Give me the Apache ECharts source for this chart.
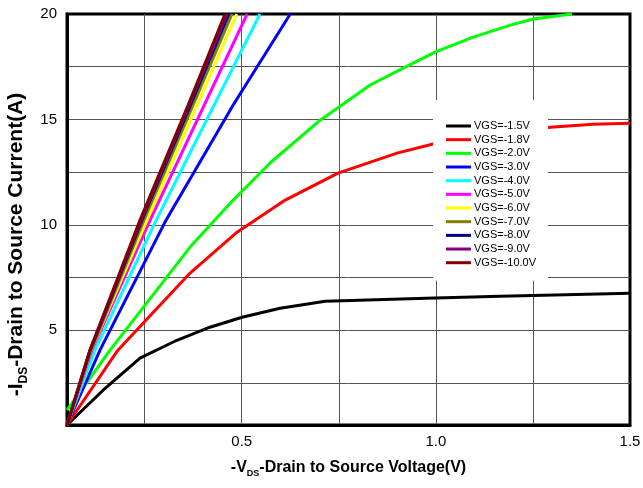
<!DOCTYPE html>
<html>
<head>
<meta charset="utf-8">
<script src="https://cdn.jsdelivr.net/npm/echarts@6/dist/echarts.min.js"></script>
<style>
  html, body { margin: 0; padding: 0; background: #ffffff; }
  #chart { width: 643px; height: 488px; }
</style>
</head>
<body>
<div id="chart"></div>
<script>
// Output characteristics: -ID versus -VDS for several gate voltages
const gateLabels = ['VGS=-1.5V', 'VGS=-1.8V', 'VGS=-2.0V', 'VGS=-3.0V', 'VGS=-4.0V', 'VGS=-5.0V',
                    'VGS=-6.0V', 'VGS=-7.0V', 'VGS=-8.0V', 'VGS=-9.0V', 'VGS=-10.0V'];

const vds_1v5 = [0.05, 0.143, 0.238, 0.333, 0.418, 0.501, 0.599, 0.715, 0.998, 1.166, 1.5];
const id_1v5  = [0.5, 2.15, 3.67, 4.52, 5.14, 5.61, 6.04, 6.37, 6.52, 6.61, 6.75];

const vds_1v8 = [0.05, 0.181, 0.367, 0.488, 0.612, 0.748, 0.900, 0.993, 1.295, 1.405, 1.5];
const id_1v8  = [0.5, 4.05, 7.71, 9.65, 11.17, 12.45, 13.40, 13.83, 14.63, 14.77, 14.82];

const vds_2v0 = [0.05, 0.161, 0.367, 0.478, 0.573, 0.702, 0.831, 0.916, 0.998, 1.096, 1.192, 1.251, 1.351];
const id_2v0  = [1.2, 4.05, 8.94, 11.17, 12.93, 14.96, 16.63, 17.43, 18.19, 18.90, 19.47, 19.76, 20.0];

const vds_3v0 = [0.05, 0.135, 0.305, 0.478, 0.625];
const id_3v0  = [0.5, 4.05, 10.22, 15.68, 20.0];

const vds_4v0 = [0.05, 0.122, 0.277, 0.547];
const id_4v0  = [0.5, 4.05, 10.12, 20.0];

const vds_5v0 = [0.05, 0.114, 0.264, 0.514];
const id_5v0  = [0.5, 4.05, 10.22, 20.0];

const vds_6v0 = [0.05, 0.112, 0.256, 0.487];
const id_6v0  = [0.5, 4.05, 10.22, 20.0];

const vds_7v0 = [0.05, 0.112, 0.248, 0.475];
const id_7v0  = [0.5, 4.05, 10.22, 20.0];

const vds_8v0 = [0.05, 0.110, 0.243, 0.467];
const id_8v0  = [0.5, 4.05, 10.22, 20.0];

const vds_9v0 = [0.05, 0.109, 0.241, 0.462];
const id_9v0  = [0.5, 4.05, 10.22, 20.0];

const vds_10v0 = [0.05, 0.109, 0.238, 0.362, 0.457];
const id_10v0  = [0.5, 4.05, 10.22, 15.68, 20.0];

// Axis ticks
const xGridValues = [0.25, 0.5, 0.75, 1.0, 1.25];
const xLabelValues = [0.5, 1.0, 1.5];
const yGridValues = [2.5, 5, 7.5, 10, 12.5, 15, 17.5];
const yLabelValues = [5, 10, 15, 20];

const curveX = [vds_1v5, vds_1v8, vds_2v0, vds_3v0, vds_4v0, vds_5v0, vds_6v0, vds_7v0, vds_8v0, vds_9v0, vds_10v0];
const curveY = [id_1v5, id_1v8, id_2v0, id_3v0, id_4v0, id_5v0, id_6v0, id_7v0, id_8v0, id_9v0, id_10v0];
const lineColors = ['#000000', '#ff0000', '#00ff00', '#0000ff', '#00ffff', '#ff00ff',
                    '#ffff00', '#808000', '#000080', '#800080', '#800000'];

const FONT = 'Liberation Sans, Arial, sans-serif';

const series = gateLabels.map((name, k) => ({
  name: name,
  type: 'line',
  symbol: 'none',
  smooth: false,
  clip: true,
  color: lineColors[k],
  lineStyle: { color: lineColors[k], width: 3 },
  data: curveX[k].map((v, j) => [v, curveY[k][j]])
}));

const gridLine = { show: true, lineStyle: { color: '#555555', width: 1 } };
const xNameRich = {
  a: { fontFamily: FONT, fontSize: 16, fontWeight: 'bold', color: '#000', verticalAlign: 'top', lineHeight: 18 },
  s: { fontFamily: FONT, fontSize: 9, fontWeight: 'bold', color: '#000', verticalAlign: 'top', lineHeight: 18, padding: [9, 0, 0, 0] }
};
const yNameRich = {
  a: { fontFamily: FONT, fontSize: 21, fontWeight: 'bold', color: '#000', verticalAlign: 'top', lineHeight: 23 },
  s: { fontFamily: FONT, fontSize: 12, fontWeight: 'bold', color: '#000', verticalAlign: 'top', lineHeight: 23, padding: [12, 0, 0, 0] }
};

const chart = echarts.init(document.getElementById('chart'), null, { renderer: 'canvas' });
chart.setOption({
  animation: false,
  backgroundColor: '#ffffff',
  grid: {
    left: 67, right: 13, top: 14, bottom: 63,
    outerBoundsMode: 'none',
    containLabel: false,
    show: true, borderColor: '#000000', borderWidth: 3, backgroundColor: 'transparent'
  },
  legend: {
    data: gateLabels,
    left: 433, top: 100,
    orient: 'vertical',
    padding: [20, 12, 12, 13],
    backgroundColor: '#ffffff',
    icon: 'rect',
    itemWidth: 25,
    itemHeight: 3,
    itemGap: 1.67,
    textStyle: { fontFamily: FONT, fontSize: 11, color: '#000', lineHeight: 12, padding: [0, 0, 0, -2] }
  },
  xAxis: {
    type: 'value',
    min: 0.05, max: 1.5,
    name: '{a|-V}{s|DS}{a|-Drain to Source Voltage(V)}',
    nameLocation: 'middle',
    nameGap: 35,
    nameTextStyle: { rich: xNameRich },
    axisLine: { show: true, lineStyle: { color: '#000', width: 3 } },
    axisTick: { show: false, customValues: xGridValues },
    axisLabel: {
      customValues: xLabelValues,
      formatter: v => v.toFixed(1),
      fontFamily: FONT, fontSize: 15, color: '#000', margin: 9
    },
    splitLine: gridLine
  },
  yAxis: {
    type: 'value',
    min: 0.5, max: 20,
    name: '{a|-I}{s|DS}{a|-Drain to Source Current(A)}',
    nameLocation: 'middle',
    nameGap: 34,
    nameTextStyle: { rich: yNameRich, padding: [0, 50, 0, 0] },
    axisLine: { show: true, lineStyle: { color: '#000', width: 3 } },
    axisTick: { show: false, customValues: yGridValues },
    axisLabel: {
      customValues: yLabelValues,
      formatter: v => String(v),
      fontFamily: FONT, fontSize: 15, color: '#000', margin: 10
    },
    splitLine: gridLine
  },
  series: series
});
</script>
</body>
</html>
